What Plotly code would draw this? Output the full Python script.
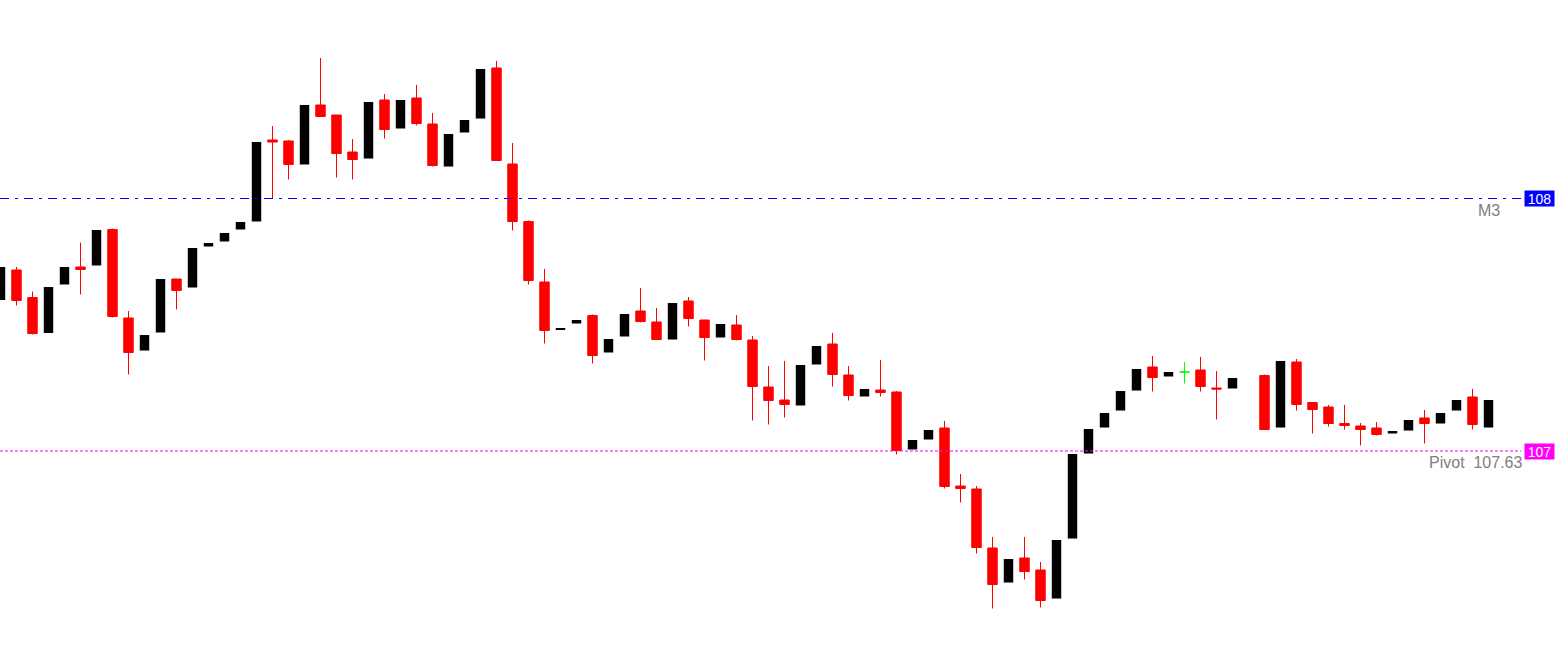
import plotly.graph_objects as go

# ---- data (price values) ----
open_ = [107.932, 107.992, 107.937, 107.866, 107.963, 107.998, 108.001, 108.073, 107.896, 107.831,
         107.867, 107.974, 107.957, 108.039, 108.049, 108.073, 108.089, 108.252, 108.250, 108.203,
         108.322, 108.302, 108.228, 108.215, 108.332, 108.275, 108.336, 108.284, 108.199, 108.267,
         108.295, 108.396, 108.204, 108.089, 107.968, 107.872, 107.885, 107.901, 107.827, 107.859,
         107.910, 107.888, 107.853, 107.930, 107.892, 107.857, 107.882, 107.852, 107.758, 107.732,
         107.721, 107.803, 107.844, 107.782, 107.739, 107.752, 107.748, 107.633, 107.653, 107.676,
         107.560, 107.554, 107.436, 107.367, 107.416, 107.392, 107.335, 107.455, 107.625, 107.677,
         107.711, 107.751, 107.798, 107.779, 107.788, 107.792, 107.756, 107.755, None, 107.781,
         107.677, 107.808, 107.727, 107.718, 107.685, 107.680, 107.676, 107.665, 107.671, 107.696,
         107.685, 107.711, 107.738, 107.677]
high = [107.998, 107.998, 107.949, 107.958, 107.998, 108.047, 108.072, 108.075, 107.910, 107.862,
        107.974, 107.974, 108.036, 108.046, 108.066, 108.088, 108.248, 108.280, 108.252, 108.322,
        108.416, 108.302, 108.254, 108.328, 108.344, 108.332, 108.362, 108.306, 108.264, 108.292,
        108.394, 108.410, 108.246, 108.091, 107.994, 107.876, 107.892, 107.903, 107.854, 107.904,
        107.956, 107.916, 107.926, 107.938, 107.892, 107.884, 107.902, 107.860, 107.800, 107.810,
        107.802, 107.840, 107.866, 107.800, 107.754, 107.812, 107.750, 107.652, 107.672, 107.690,
        107.584, 107.560, 107.458, 107.414, 107.458, 107.408, 107.452, 107.624, 107.674, 107.706,
        107.750, 107.794, 107.820, 107.788, 107.808, 107.818, 107.790, 107.776, None, 107.783,
        107.810, 107.814, 107.727, 107.722, 107.722, 107.686, 107.688, 107.670, 107.692, 107.712,
        107.706, 107.732, 107.754, 107.732]
low = [107.932, 107.921, 107.863, 107.866, 107.963, 107.943, 108.001, 107.897, 107.783, 107.831,
       107.867, 107.913, 107.957, 108.039, 108.049, 108.073, 108.089, 108.136, 108.173, 108.203,
       108.299, 108.177, 108.173, 108.215, 108.255, 108.275, 108.281, 108.199, 108.199, 108.267,
       108.295, 108.211, 108.071, 107.963, 107.845, 107.872, 107.885, 107.805, 107.827, 107.859,
       107.887, 107.853, 107.853, 107.879, 107.811, 107.857, 107.851, 107.691, 107.683, 107.697,
       107.721, 107.803, 107.759, 107.731, 107.739, 107.739, 107.623, 107.633, 107.653, 107.555,
       107.527, 107.425, 107.315, 107.367, 107.373, 107.317, 107.335, 107.455, 107.625, 107.677,
       107.711, 107.751, 107.749, 107.779, 107.765, 107.749, 107.693, 107.755, None, 107.673,
       107.677, 107.711, 107.665, 107.679, 107.673, 107.641, 107.661, 107.665, 107.671, 107.645,
       107.685, 107.711, 107.673, 107.677]
close = [107.998, 107.931, 107.865, 107.958, 107.998, 107.993, 108.072, 107.899, 107.827, 107.862,
         107.974, 107.951, 108.036, 108.046, 108.066, 108.088, 108.248, 108.248, 108.203, 108.322,
         108.299, 108.225, 108.213, 108.328, 108.273, 108.332, 108.285, 108.201, 108.264, 108.292,
         108.394, 108.211, 108.089, 107.971, 107.871, 107.876, 107.892, 107.821, 107.854, 107.904,
         107.889, 107.853, 107.926, 107.895, 107.857, 107.884, 107.853, 107.759, 107.731, 107.723,
         107.802, 107.840, 107.783, 107.741, 107.754, 107.747, 107.631, 107.652, 107.672, 107.559,
         107.555, 107.437, 107.363, 107.414, 107.389, 107.331, 107.452, 107.624, 107.674, 107.706,
         107.750, 107.794, 107.777, 107.788, 107.788, 107.759, 107.754, 107.776, None, 107.673,
         107.810, 107.723, 107.713, 107.685, 107.681, 107.673, 107.663, 107.670, 107.692, 107.685,
         107.706, 107.732, 107.683, 107.732]

m3_level = 108.135
m3_name = "M3"
m3_box = "108"
pivot_level = 107.630
pivot_name = "Pivot"
pivot_box = "107"

y_range = [107.230, 108.532]
x_range = [-0.03125, 97.15625]

bars = list(range(len(open_)))
doji = [i for i in bars if open_[i] is not None and open_[i] == close[i]]
normal = [i for i in bars if i not in doji]

fig = go.Figure()
fig.add_trace(go.Candlestick(
    x=normal,
    open=[open_[i] for i in normal],
    high=[high[i] for i in normal],
    low=[low[i] for i in normal],
    close=[close[i] for i in normal],
    increasing=dict(fillcolor="#000000", line=dict(color="#000000", width=0)),
    decreasing=dict(fillcolor="#FF0000", line=dict(color="#FF0000", width=1)),
    whiskerwidth=0,
    hoverinfo="skip",
))
fig.add_trace(go.Candlestick(
    x=doji,
    open=[open_[i] for i in doji],
    high=[high[i] for i in doji],
    low=[low[i] for i in doji],
    close=[close[i] for i in doji],
    increasing=dict(fillcolor="#00FF00", line=dict(color="#00FF00", width=1)),
    decreasing=dict(fillcolor="#00FF00", line=dict(color="#00FF00", width=1)),
    whiskerwidth=0,
    hoverinfo="skip",
))

W, H = 1555, 651
line_end = 1521 / W

fig.add_shape(type="line", xref="paper", yref="y", x0=0, x1=line_end,
              y0=m3_level, y1=m3_level,
              line=dict(color="#0000FF", width=1, dash="9px,6px,3px,6px"))
fig.add_shape(type="line", xref="paper", yref="y", x0=0, x1=line_end,
              y0=pivot_level, y1=pivot_level,
              line=dict(color="#FF00FF", width=1, dash="3px,2px"))

font_family = "Liberation Sans, Arial, sans-serif"
fig.add_annotation(xref="paper", yref="y", x=1, y=m3_level, xanchor="right", yanchor="middle",
                   text=m3_box, showarrow=False, bgcolor="#0000FF", width=29, height=15,
                   borderpad=0, font=dict(family=font_family, size=14, color="#FFFFFF"))
fig.add_annotation(xref="paper", yref="y", x=1, y=pivot_level, xanchor="right", yanchor="middle",
                   text=pivot_box, showarrow=False, bgcolor="#FF00FF", width=29, height=15,
                   borderpad=0, font=dict(family=font_family, size=14, color="#FFFFFF"))
fig.add_annotation(xref="paper", yref="y", x=1502 / W, y=m3_level, xanchor="right", yanchor="top",
                   yshift=-1, text=m3_name, showarrow=False,
                   font=dict(family=font_family, size=16, color="#808080"))
fig.add_annotation(xref="paper", yref="y", x=1525 / W, y=pivot_level, xanchor="right", yanchor="top",
                   yshift=-1, text=f"{pivot_name}\u00a0 {pivot_level:.2f}", showarrow=False,
                   font=dict(family=font_family, size=16, color="#808080"))

fig.update_layout(
    width=W, height=H,
    margin=dict(l=0, r=0, t=0, b=0),
    paper_bgcolor="#FFFFFF", plot_bgcolor="#FFFFFF",
    showlegend=False,
    boxgap=0.41, boxgroupgap=0,
    xaxis=dict(range=x_range, visible=False, rangeslider=dict(visible=False), fixedrange=True),
    yaxis=dict(range=y_range, visible=False, fixedrange=True),
)

fig.write_html("out.html", config={"displayModeBar": False},
               post_script="document.body.style.margin='0';document.body.style.overflow='hidden';")
